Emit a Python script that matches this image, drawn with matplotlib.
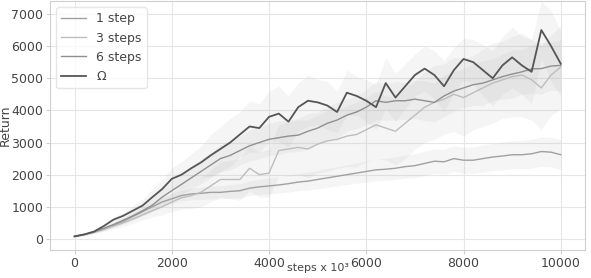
import numpy as np
import matplotlib
matplotlib.use("Agg")
import matplotlib.pyplot as plt

# ── Data (step grid every 200 x 10^3 steps) ──────────────────────────────────
steps = np.arange(0, 10001, 200)

omega = [80, 140, 230, 400, 600, 720, 880, 1040, 1300, 1550,
         1870, 2000, 2200, 2380, 2600, 2800, 3000, 3250, 3500, 3450,
         3800, 3900, 3650, 4100, 4300, 4250, 4150, 3950, 4550, 4450,
         4300, 4100, 4850, 4400, 4750, 5100, 5300, 5100, 4750, 5250,
         5600, 5500, 5250, 5000, 5400, 5650, 5400, 5200, 6500, 6000,
         5450]
omega_sd = [20, 30, 40, 60, 80, 100, 150, 200, 250, 300,
            350, 400, 450, 500, 650, 700, 750, 700, 800, 750,
            800, 850, 800, 750, 800, 700, 750, 650, 700, 600,
            650, 700, 800, 750, 700, 650, 700, 750, 800, 700,
            650, 700, 800, 850, 900, 950, 900, 1000, 900, 1100,
            1000]

six = [80, 140, 220, 330, 450, 580, 720, 880, 1050, 1300,
       1500, 1700, 1900, 2100, 2300, 2500, 2600, 2750, 2900, 3000,
       3100, 3150, 3200, 3230, 3350, 3450, 3600, 3700, 3850, 3950,
       4100, 4300, 4250, 4300, 4300, 4350, 4300, 4250, 4450, 4600,
       4700, 4800, 4850, 4950, 5050, 5130, 5200, 5290, 5300, 5380,
       5400]
six_sd = [20, 30, 40, 60, 80, 100, 130, 160, 200, 250,
          300, 320, 350, 380, 400, 420, 450, 450, 480, 500,
          500, 520, 500, 520, 550, 500, 520, 550, 500, 520,
          550, 600, 550, 600, 580, 600, 620, 600, 650, 620,
          600, 650, 700, 650, 700, 750, 700, 750, 800, 750,
          800]

three = [80, 140, 210, 300, 400, 500, 620, 750, 880, 1000,
         1150, 1280, 1350, 1450, 1650, 1850, 1850, 1850, 2200, 2000,
         2050, 2750, 2800, 2850, 2800, 2950, 3050, 3100, 3200, 3250,
         3400, 3550, 3450, 3350, 3600, 3850, 4100, 4250, 4350, 4500,
         4400, 4550, 4700, 4850, 4950, 5050, 5100, 4950, 4700, 5100,
         5350]
three_sd = [20, 30, 40, 60, 80, 100, 130, 160, 200, 250,
            300, 350, 400, 450, 500, 550, 600, 650, 700, 700,
            750, 800, 850, 850, 900, 900, 950, 900, 950, 1000,
            1000, 1050, 1000, 1050, 1100, 1050, 1100, 1150, 1100, 1150,
            1200, 1150, 1200, 1250, 1200, 1250, 1300, 1250, 1300, 1250,
            1300]

one = [80, 140, 210, 300, 420, 550, 700, 850, 1000, 1150,
       1250, 1350, 1400, 1420, 1450, 1450, 1480, 1500, 1580, 1620,
       1650, 1680, 1720, 1770, 1800, 1850, 1900, 1950, 2000, 2050,
       2100, 2150, 2170, 2200, 2250, 2280, 2350, 2420, 2400, 2500,
       2450, 2450, 2500, 2550, 2580, 2620, 2620, 2650, 2720, 2700,
       2620]
one_sd = [20, 30, 40, 50, 60, 80, 100, 120, 140, 150,
          160, 170, 180, 190, 200, 200, 210, 220, 230, 240,
          250, 250, 260, 270, 280, 290, 300, 300, 310, 320,
          330, 340, 340, 350, 360, 370, 380, 380, 390, 400,
          400, 410, 420, 420, 430, 440, 440, 450, 460, 460,
          470]

SERIES = [
    ("1 step",  one,   one_sd,   "#a0a0a0", 1.0),
    ("3 steps", three, three_sd, "#bdbdbd", 1.0),
    ("6 steps", six,   six_sd,   "#909090", 1.0),
    ("Ω",       omega, omega_sd, "#555555", 1.3),
]

# ── Plot ──────────────────────────────────────────────────────────────────────
plt.rcParams["font.family"] = "DejaVu Sans"
fig = plt.figure(figsize=(5.91, 2.78), dpi=100)
ax = fig.add_axes([0.085, 0.1, 0.905, 0.896])

for label, mean, sd, color, lw in SERIES:
    mean = np.array(mean)
    sd = np.array(sd)
    ax.fill_between(steps, mean - sd, mean + sd, color="#b0b0b0", alpha=0.12,
                    linewidth=0, zorder=2)
for label, mean, sd, color, lw in SERIES:
    ax.plot(steps, mean, color=color, linewidth=lw, label=label, zorder=3)

ax.set_xlim(-500, 10500)
ax.set_ylim(-350, 7400)
ax.set_xticks([0, 2000, 4000, 6000, 8000, 10000])
ax.set_yticks([0, 1000, 2000, 3000, 4000, 5000, 6000, 7000])
ax.grid(color="#e6e6e6", linewidth=0.8, zorder=0)
for sp in ax.spines.values():
    sp.set_color("#cfcfcf")
ax.tick_params(colors="#cfcfcf", labelcolor="#444444", labelsize=9, length=3,
               pad=2)
ax.set_xlabel("steps x 10³", fontsize=8, color="#444444")
ax.set_ylabel("Return", fontsize=9, color="#444444")
ax.xaxis.set_label_coords(0.5, -0.05)
ax.yaxis.set_label_coords(-0.072, 0.5)

leg = ax.legend(loc="upper left", fontsize=9, frameon=True, fancybox=True)
leg.get_frame().set_edgecolor("#e0e0e0")
for txt in leg.get_texts():
    txt.set_color("#444444")

fig.savefig("out.png", dpi=100)
